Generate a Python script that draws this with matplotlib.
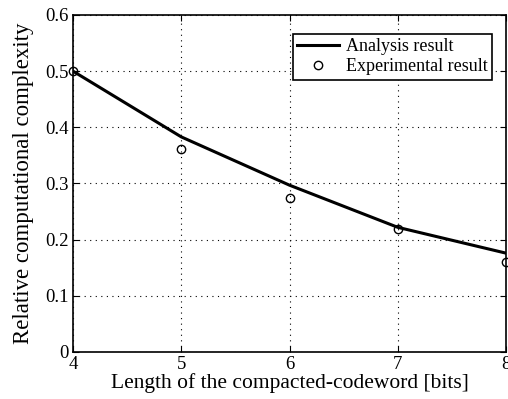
import matplotlib.pyplot as plt

plt.rcParams["font.family"] = ["Liberation Serif", "DejaVu Serif"]

# Data
lengths = [4, 5, 6, 7, 8]
analysis = [0.500, 0.383, 0.297, 0.222, 0.176]
experimental = [0.500, 0.361, 0.274, 0.219, 0.161]

fig = plt.figure(figsize=(5.08, 3.99), dpi=100)
ax = fig.add_axes([73 / 508, 47 / 399, 433 / 508, 337 / 399])

ax.plot(lengths, analysis, color="black", linewidth=2.2, label="Analysis result")
ax.plot(lengths, experimental, linestyle="none", marker="o", markersize=6,
        markerfacecolor="none", markeredgecolor="black", markeredgewidth=1.0,
        label="Experimental result", clip_on=False)

ax.set_xlim(4, 8)
ax.set_ylim(0, 0.6)
ax.set_xticks([4, 5, 6, 7, 8])
ax.set_yticks([0, 0.1, 0.2, 0.3, 0.4, 0.5, 0.6])
ax.set_yticklabels(["0", "0.1", "0.2", "0.3", "0.4", "0.5", "0.6"])
ax.tick_params(direction="in", labelsize=13.5, length=4, top=True, right=True, pad=3)
ax.grid(True, linestyle=(0, (1, 4)), color="black", linewidth=0.8)
for s in ax.spines.values():
    s.set_linewidth(1.2)

ax.set_xlabel("Length of the compacted-codeword [bits]", fontsize=15.5, labelpad=0)
ax.set_ylabel("Relative computational complexity", fontsize=16.5, labelpad=8)

leg = ax.legend(loc="upper right", bbox_to_anchor=(0.968, 0.944), fontsize=13,
                frameon=True, fancybox=False, edgecolor="black", framealpha=1,
                handlelength=2.3, handletextpad=0.4, borderpad=0.25, labelspacing=0.15,
                borderaxespad=0)
leg.get_frame().set_linewidth(1.2)

fig.savefig("out.png", dpi=100)
